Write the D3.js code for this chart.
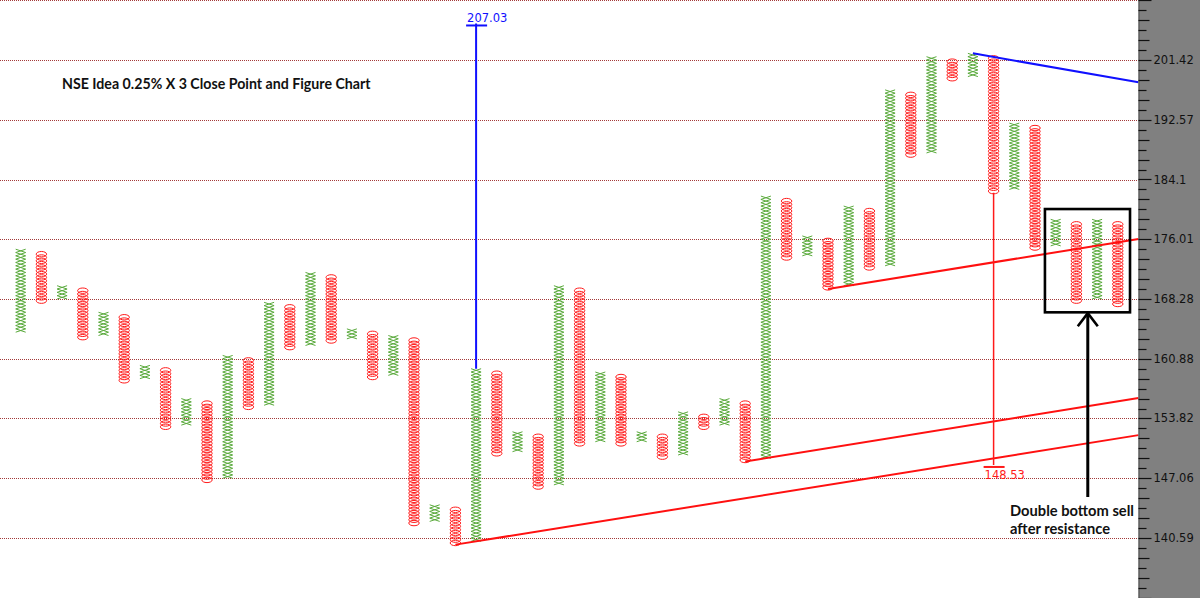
<!DOCTYPE html>
<html lang="en">
<head>
    <meta charset="UTF-8">
    <title>NSE Idea Point and Figure</title>
    <style type="text/css">
        html, body { padding:0; margin:0; background:#fff; }
        svg { display:block; }
    </style>
</head>
<body>
<script src="https://d3js.org/d3.v7.min.js"></script>
<script>
    // columns of the P&F chart, left to right (high / low box edge of each column)
    var columnTypes = ['X','O','X','O','X','O','X','O','X','O',
                       'X','O','X','O','X','O','X','O','X','O',
                       'X','O','X','O','X','O','X','O','X','O',
                       'X','O','X','O','X','O','X','O','X','O',
                       'X','O','X','O','X','O','X','O','X','O',
                       'X','O','X','O'];
    var columnHighs = [174.70, 174.27, 169.97, 169.55, 166.60, 166.19, 160.09, 159.69, 156.14, 155.75,
                       161.28, 160.88, 167.86, 167.44, 171.68, 171.25, 164.54, 164.13, 163.72, 163.31,
                       144.14, 143.79, 159.69, 159.29, 152.29, 151.91, 169.97, 169.55, 159.29, 158.89,
                       152.29, 151.91, 154.59, 154.20, 156.14, 155.75, 181.82, 181.36, 176.45, 176.01,
                       180.46, 180.01, 196.95, 196.46, 201.92, 201.42, 202.43, 201.92, 192.08, 191.60,
                       178.67, 178.22, 178.67, 178.22];
    var columnLows  = [164.13, 167.86, 168.28, 163.31, 163.72, 158.10, 158.50, 152.67, 153.05, 146.69,
                       147.06, 154.98, 155.36, 162.09, 162.49, 162.90, 163.31, 158.50, 158.89, 142.00,
                       142.36, 139.89, 140.24, 149.65, 150.03, 145.96, 146.32, 150.78, 151.15, 150.78,
                       151.15, 149.28, 149.65, 152.67, 153.05, 148.91, 149.28, 173.40, 173.83, 169.55,
                       169.97, 172.10, 172.53, 187.35, 187.81, 198.43, 198.92, 182.27, 182.73, 174.70,
                       175.14, 167.86, 168.28, 167.44];

    var priceLabels = [201.42, 192.57, 184.1, 176.01, 168.28, 160.88, 153.82, 147.06, 140.59];

    // trend lines: start column/price, end column/price
    var trendKinds  = ['resistance', 'support', 'support', 'support'];
    var trendStarts = [[46, 202.43], [21, 139.89], [35, 148.91], [39, 169.55]];
    var trendEnds   = [[54, 198.08], [54, 151.90], [54, 156.21], [54, 176.05]];

    // vertical count targets
    var targetCols   = [22, 47];
    var targetFrom   = [159.69, 182.27];
    var targetPrices = [207.03, 148.53];

    var chart = {};

    chart.options = {
        width: 1200,
        height: 598,
        plotRight: 1138.5,
        box: 0.0025,
        green: '#5aaa3c',
        red: '#ff1a1a',
        grid: '#a33a3a',
        title: 'NSE Idea 0.25% X 3 Close Point and Figure Chart',
        note: ['Double bottom sell', 'after resistance'],
        noteBox: { c0: 49.48, c1: 53.59, top: 180.06, bottom: 166.60 },
        arrow: { col: 51.55, tip: 166.49, tail: 144.99 }
    };

    chart.snap = function(p) {
        var base = priceLabels[priceLabels.length - 1],
            f = 1 + this.options.box,
            k = Math.round(Math.log(p / base) / Math.log(f));
        return base * Math.pow(f, k);
    };

    chart.init = function() {
        var o = this.options;
        this.svg = d3.select('body').append('svg')
            .attr('width', o.width)
            .attr('height', o.height);

        this.x = d3.scaleLinear().domain([-1, 54]).range([0, o.plotRight]);
        this.y = d3.scaleLog().domain([140.59, 201.42]).range([538, 60]);

        this.renderGrid();
        this.renderColumns();
        this.renderTrendLines();
        this.renderTargets();
        this.renderNotes();
        this.renderAxis();
    };

    chart.renderGrid = function() {
        var o = this.options, y = this.y;
        var f = Math.pow(1 + o.box, 18);
        var levels = priceLabels.slice();
        levels.push(priceLabels[0] * f);
        this.svg.append('g').selectAll('line')
            .data(levels)
            .enter().append('line')
            .attr('x1', 0)
            .attr('x2', o.plotRight)
            .attr('y1', function(d) { return Math.round(y(d)) + 0.5; })
            .attr('y2', function(d) { return Math.round(y(d)) + 0.5; })
            .attr('stroke', o.grid)
            .attr('stroke-dasharray', '1,1')
            .attr('stroke-width', 1);
    };

    chart.renderColumns = function() {
        var self = this, o = this.options, x = this.x, y = this.y;
        var f = 1 + o.box;
        var g = this.svg.append('g');

        columnTypes.forEach(function(type, i) {
            var hi = self.snap(columnHighs[i]),
                lo = self.snap(columnLows[i]),
                n = Math.round(Math.log(hi / lo) / Math.log(f)),
                cx = x(i),
                boxes = d3.range(n).map(function(j) {
                    return { y0: y(lo * Math.pow(f, j + 1)), y1: y(lo * Math.pow(f, j)) };
                });

            if (type === 'X') {
                g.append('path')
                    .attr('d', boxes.map(function(b) {
                        return 'M' + (cx - 5) + ',' + b.y0 + 'L' + (cx + 5) + ',' + b.y1 +
                               'M' + (cx + 5) + ',' + b.y0 + 'L' + (cx - 5) + ',' + b.y1;
                    }).join(''))
                    .attr('fill', 'none')
                    .attr('stroke', o.green)
                    .attr('stroke-width', 1);
            } else {
                g.selectAll(null)
                    .data(boxes)
                    .enter().append('ellipse')
                    .attr('cx', cx)
                    .attr('cy', function(b) { return (b.y0 + b.y1) / 2; })
                    .attr('rx', 5.2)
                    .attr('ry', 2.7)
                    .attr('fill', 'none')
                    .attr('stroke', o.red)
                    .attr('stroke-width', 1);
            }
        });
    };

    chart.renderTrendLines = function() {
        var o = this.options, x = this.x, y = this.y;
        this.svg.append('g').selectAll('line')
            .data(trendKinds)
            .enter().append('line')
            .attr('x1', function(d, i) { return x(trendStarts[i][0]); })
            .attr('y1', function(d, i) { return y(trendStarts[i][1]); })
            .attr('x2', function(d, i) { return x(trendEnds[i][0]); })
            .attr('y2', function(d, i) { return y(trendEnds[i][1]); })
            .attr('stroke', function(d) { return d === 'resistance' ? '#1010ff' : '#ff1010'; })
            .attr('stroke-width', 2);
    };

    chart.renderTargets = function() {
        var self = this, x = this.x, y = this.y;
        var g = this.svg.append('g');
        targetCols.forEach(function(c, i) {
            var up = targetPrices[i] > targetFrom[i],
                color = up ? '#1010ff' : '#ff1a1a',
                cx = x(c);
            g.append('line')
                .attr('x1', cx).attr('x2', cx)
                .attr('y1', y(targetFrom[i]))
                .attr('y2', y(targetPrices[i]))
                .attr('stroke', color)
                .attr('stroke-width', up ? 2 : 1.5);
            g.append('line')
                .attr('x1', cx - 10).attr('x2', cx + 11)
                .attr('y1', y(targetPrices[i]) + 2)
                .attr('y2', y(targetPrices[i]) + 2)
                .attr('stroke', color)
                .attr('stroke-width', 2);
            g.append('text')
                .attr('x', cx - 9)
                .attr('y', up ? y(targetPrices[i]) - 1 : y(targetPrices[i]) + 14)
                .attr('fill', color)
                .style('font-family', 'DejaVu Sans, sans-serif')
                .style('font-size', '11.5px')
                .text(targetPrices[i].toFixed(2));
        });
    };

    chart.renderNotes = function() {
        var o = this.options, x = this.x, y = this.y;
        var nb = o.noteBox, ar = o.arrow;

        this.svg.append('text')
            .attr('x', 62)
            .attr('y', 89)
            .attr('fill', '#111')
            .style('font-family', 'Lato, sans-serif')
            .style('font-weight', 'bold')
            .style('font-size', '14.2px')
            .text(o.title);

        this.svg.append('rect')
            .attr('x', x(nb.c0))
            .attr('y', y(nb.top))
            .attr('width', x(nb.c1) - x(nb.c0))
            .attr('height', y(nb.bottom) - y(nb.top))
            .attr('fill', 'none')
            .attr('stroke', '#000')
            .attr('stroke-width', 2.6);

        var ax = x(ar.col), ty = y(ar.tip);
        this.svg.append('line')
            .attr('x1', ax).attr('x2', ax)
            .attr('y1', ty).attr('y2', y(ar.tail))
            .attr('stroke', '#000')
            .attr('stroke-width', 3);
        this.svg.append('path')
            .attr('d', 'M' + (ax - 10) + ',' + (ty + 13) + 'L' + ax + ',' + ty + 'L' + (ax + 10) + ',' + (ty + 13))
            .attr('fill', 'none')
            .attr('stroke', '#000')
            .attr('stroke-width', 2.6);

        this.svg.append('g').selectAll('text')
            .data(o.note)
            .enter().append('text')
            .attr('x', 1010)
            .attr('y', function(d, i) { return 516 + i * 18; })
            .attr('fill', '#111')
            .style('font-family', 'Lato, sans-serif')
            .style('font-weight', 'bold')
            .style('font-size', '14.7px')
            .text(function(d) { return d; });
    };

    chart.renderAxis = function() {
        var o = this.options, y = this.y;
        var base = priceLabels[priceLabels.length - 1], f = 1 + o.box;
        var ticks = d3.range(-18, 166, 3).map(function(k) { return { k: k, p: base * Math.pow(f, k) }; });

        this.svg.append('rect')
            .attr('x', o.plotRight)
            .attr('y', 0)
            .attr('width', o.width - o.plotRight)
            .attr('height', o.height)
            .attr('fill', '#808080');
        this.svg.append('line')
            .attr('x1', o.plotRight + 0.5).attr('x2', o.plotRight + 0.5)
            .attr('y1', 0).attr('y2', o.height)
            .attr('stroke', '#4a4a4a');

        var g = this.svg.append('g');
        g.selectAll('line')
            .data(ticks)
            .enter().append('line')
            .attr('x1', o.plotRight)
            .attr('x2', function(d) { return o.plotRight + (d.k % 18 === 0 ? 13 : (d.k % 6 === 0 ? 11 : 8)); })
            .attr('y1', function(d) { return Math.round(y(d.p)) + 0.5; })
            .attr('y2', function(d) { return Math.round(y(d.p)) + 0.5; })
            .attr('stroke', '#111')
            .attr('stroke-width', 1.2);

        g.selectAll('text')
            .data(priceLabels)
            .enter().append('text')
            .attr('x', o.plotRight + 15)
            .attr('y', function(d) { return y(d); })
            .attr('dy', '0.35em')
            .attr('fill', '#111')
            .style('font-family', 'DejaVu Sans, sans-serif')
            .style('font-size', '11.5px')
            .text(function(d) { return d; });
    };

    chart.init();
</script>
</body>
</html>
